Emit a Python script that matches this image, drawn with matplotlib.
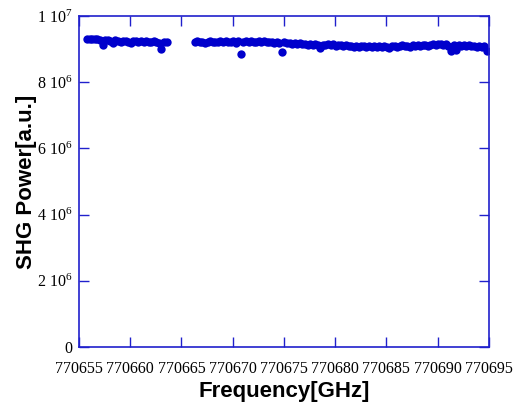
import numpy as np
import matplotlib
matplotlib.use("Agg")
import matplotlib.pyplot as plt

plt.rcParams['mathtext.fontset'] = 'custom'
plt.rcParams['mathtext.rm'] = 'Liberation Serif'
plt.rcParams['mathtext.it'] = 'Liberation Serif'

# Segment 1 frequency grid and SHG power (x1e6 a.u.)
freq1_start = 770655.8
freq_step = 0.25
power1 = [9.31, 9.32, 9.31, 9.30, 9.31, 9.29, 9.14, 9.28, 9.27, 9.26,
          9.18, 9.27, 9.25, 9.22, 9.26, 9.24, 9.23, 9.19, 9.25, 9.24,
          9.22, 9.25, 9.23, 9.24, 9.21, 9.22, 9.24, 9.23, 9.20, 9.02,
          9.21, 9.22]

# Segment 2
freq2_start = 770666.3
power2 = [9.22, 9.24, 9.21, 9.23, 9.20, 9.22, 9.24, 9.21, 9.23, 9.22,
          9.24, 9.22, 9.25, 9.21, 9.23, 9.24, 9.20, 9.25, 8.86, 9.23,
          9.24, 9.22, 9.25, 9.23, 9.21, 9.24, 9.22, 9.25, 9.23, 9.21,
          9.23, 9.20, 9.22, 9.19, 8.92, 9.21, 9.18, 9.20, 9.17, 9.19,
          9.16, 9.18, 9.15, 9.17, 9.14, 9.16, 9.13, 9.15, 9.12, 9.03,
          9.14, 9.12, 9.15, 9.13, 9.16, 9.11, 9.14, 9.12, 9.10, 9.13,
          9.09, 9.11, 9.08, 9.10, 9.07, 9.11, 9.09, 9.06, 9.10, 9.08,
          9.09, 9.07, 9.10, 9.08, 9.11, 9.06, 9.03, 9.09, 9.11, 9.08,
          9.10, 9.12, 9.09, 9.11, 9.08, 9.12, 9.10, 9.13, 9.09, 9.12,
          9.14, 9.11, 9.13, 9.16, 9.12, 9.15, 9.17, 9.13, 9.15, 9.11,
          8.96, 9.12, 8.98, 9.14, 9.11, 9.13, 9.10, 9.12, 9.09, 9.11,
          9.08, 9.10, 9.07, 9.09, 8.95]

x_ticks = [770655, 770660, 770665, 770670, 770675, 770680, 770685, 770690, 770695]
y_ticks = [0, 2e6, 4e6, 6e6, 8e6, 1e7]
y_tick_labels = ['0', r'2 10$^{6}$', r'4 10$^{6}$', r'6 10$^{6}$', r'8 10$^{6}$', r'1 10$^{7}$']

freq1 = freq1_start + freq_step * np.arange(len(power1))
freq2 = freq2_start + freq_step * np.arange(len(power2))
freq = np.concatenate([freq1, freq2])
power = np.concatenate([power1, power2]) * 1e6

blue = '#0000CC'
spine_blue = '#2020CC'

fig = plt.figure(figsize=(5.13, 4.03), dpi=100)
ax = fig.add_axes([0.154, 0.139, 0.799, 0.821])
ax.plot(freq, power, 'o', color=blue, markersize=6.0, markeredgewidth=0)

ax.set_xlim(770655, 770695)
ax.set_ylim(0, 1e7)
ax.set_xticks(x_ticks)
ax.set_xticklabels([str(t) for t in x_ticks], fontfamily='Liberation Serif', fontsize=11.5)
ax.set_yticks(y_ticks)
ax.set_yticklabels(y_tick_labels, fontfamily='Liberation Serif', fontsize=11.5)

for s in ax.spines.values():
    s.set_color(spine_blue)
    s.set_linewidth(1.2)
ax.tick_params(direction='in', length=7, width=1, color=spine_blue,
               top=True, right=True)
ax.tick_params(axis='x', pad=10)
ax.tick_params(axis='y', pad=5)

ax.set_xlabel('Frequency[GHz]', fontfamily='Liberation Sans', fontweight='bold', fontsize=16, labelpad=3)
ax.set_ylabel('SHG Power[a.u.]', fontfamily='Liberation Sans', fontweight='bold', fontsize=16, labelpad=0)

fig.savefig('out.png', dpi=100)
